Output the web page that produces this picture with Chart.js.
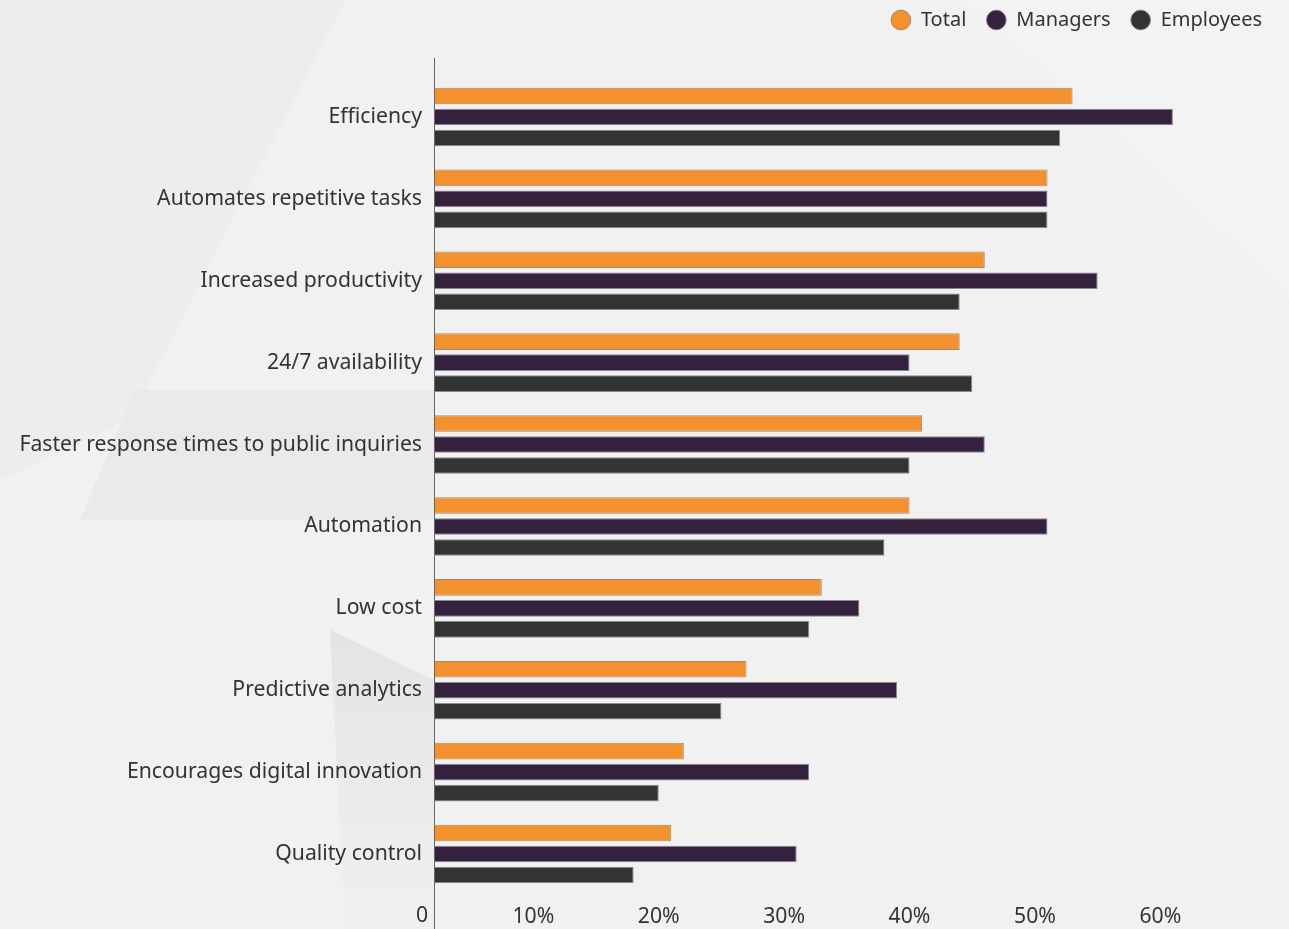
<!DOCTYPE html>
<html>
<head>
<meta charset="utf-8">
<script src="https://cdn.jsdelivr.net/npm/chart.js@4"></script>
<style>
  html, body { margin: 0; padding: 0; background: #f1f1f1; overflow: hidden; }
  #wrap { position: relative; width: 1289px; height: 929px; }
  #bg { position: absolute; left: 0; top: 0; }
  #chart { position: absolute; left: 0; top: 0; }
</style>
</head>
<body>
<div id="wrap">
  <!-- faint angular backdrop shapes -->
  <svg id="bg" width="1289" height="929">
    <defs>
      <linearGradient id="fade" x1="0" y1="0" x2="0" y2="1">
        <stop offset="0" stop-color="#e4e4e4"/>
        <stop offset="1" stop-color="#f0f0f0"/>
      </linearGradient>
    </defs>
    <rect width="1289" height="929" fill="#f1f1f1"/>
    <polygon points="0,0 345,0 130,420 0,480" fill="#ededed"/>
    <polygon points="135,390 434,390 434,520 80,520" fill="#eaeaea"/>
    <polygon points="330,630 434,680 434,929 345,929" fill="url(#fade)"/>
    <polygon points="960,0 1289,0 1289,300 1100,120" fill="#f3f3f3"/>
  </svg>
  <canvas id="chart" width="1289" height="929"></canvas>
</div>
<script>
  const categories = [
    'Efficiency',
    'Automates repetitive tasks',
    'Increased productivity',
    '24/7 availability',
    'Faster response times to public inquiries',
    'Automation',
    'Low cost',
    'Predictive analytics',
    'Encourages digital innovation',
    'Quality control'
  ];
  const totalValues     = [53, 51, 46, 44, 41, 40, 33, 27, 22, 21];
  const managerValues   = [61, 51, 55, 40, 46, 51, 36, 39, 32, 31];
  const employeeValues  = [52, 51, 44, 45, 40, 38, 32, 25, 20, 18];
  const tickValues      = [10, 20, 30, 40, 50, 60];

  const textColor = '#333333';
  const fontFamily = '"Noto Sans", "Open Sans", sans-serif';
  const baseFont = { family: fontFamily, size: 21.2 };

  // legend sits alone at the top, push the plot down below it
  const legendSpacer = {
    id: 'legendSpacer',
    beforeInit(chart) {
      const fit = chart.legend.fit;
      chart.legend.fit = function () {
        fit.call(this);
        this.height += 36;
      };
    }
  };

  // vertical axis line running past the plot, plus the lone "0" label
  const axisExtras = {
    id: 'axisExtras',
    afterDraw(chart) {
      const { ctx, chartArea } = chart;
      const x = Math.round(chartArea.left) + 0.5;
      ctx.save();
      ctx.strokeStyle = '#666666';
      ctx.lineWidth = 1;
      ctx.beginPath();
      ctx.moveTo(x, chartArea.top - 18);
      ctx.lineTo(x, chart.height);
      ctx.stroke();
      ctx.fillStyle = textColor;
      ctx.font = '21.2px ' + fontFamily;
      ctx.textAlign = 'right';
      ctx.textBaseline = 'middle';
      ctx.fillText('0', chartArea.left - 6, chartArea.bottom + 21);
      ctx.restore();
    }
  };

  const ctx = document.getElementById('chart').getContext('2d');

  new Chart(ctx, {
    type: 'bar',
    data: {
      labels: categories,
      datasets: [
        { label: 'Total', data: totalValues, backgroundColor: '#f3912f', borderColor: '#a78a70' },
        { label: 'Managers', data: managerValues, backgroundColor: '#33213e', borderColor: '#8c8690' },
        { label: 'Employees', data: employeeValues, backgroundColor: '#333333', borderColor: '#8a8a8a' }
      ]
    },
    options: {
      indexAxis: 'y',
      responsive: false,
      animation: false,
      layout: { padding: { top: -10, right: 7, bottom: 0, left: 0 } },
      datasets: {
        bar: {
          borderWidth: 1,
          categoryPercentage: 0.77,
          barPercentage: 0.79
        }
      },
      plugins: {
        legend: {
          position: 'top',
          align: 'end',
          labels: {
            usePointStyle: true,
            pointStyle: 'circle',
            boxWidth: 22,
            boxHeight: 14,
            padding: 20,
            color: textColor,
            font: { family: fontFamily, size: 20 }
          }
        },
        tooltip: { enabled: false }
      },
      scales: {
        x: {
          type: 'linear',
          min: 2.08,
          max: 69.7,
          grid: { display: false, drawTicks: false },
          border: { display: false },
          afterBuildTicks(scale) {
            scale.ticks = tickValues.map(v => ({ value: v }));
          },
          afterFit(scale) { scale.height = 34; },
          ticks: {
            color: textColor,
            font: baseFont,
            padding: 9,
            maxRotation: 0,
            autoSkip: false,
            callback: v => v + '%'
          }
        },
        y: {
          grid: { display: false, drawTicks: false },
          border: { display: false },
          afterFit(scale) { scale.width = 434; },
          ticks: {
            color: textColor,
            font: baseFont,
            padding: 12,
            autoSkip: false
          }
        }
      }
    },
    plugins: [legendSpacer, axisExtras]
  });
</script>
</body>
</html>
